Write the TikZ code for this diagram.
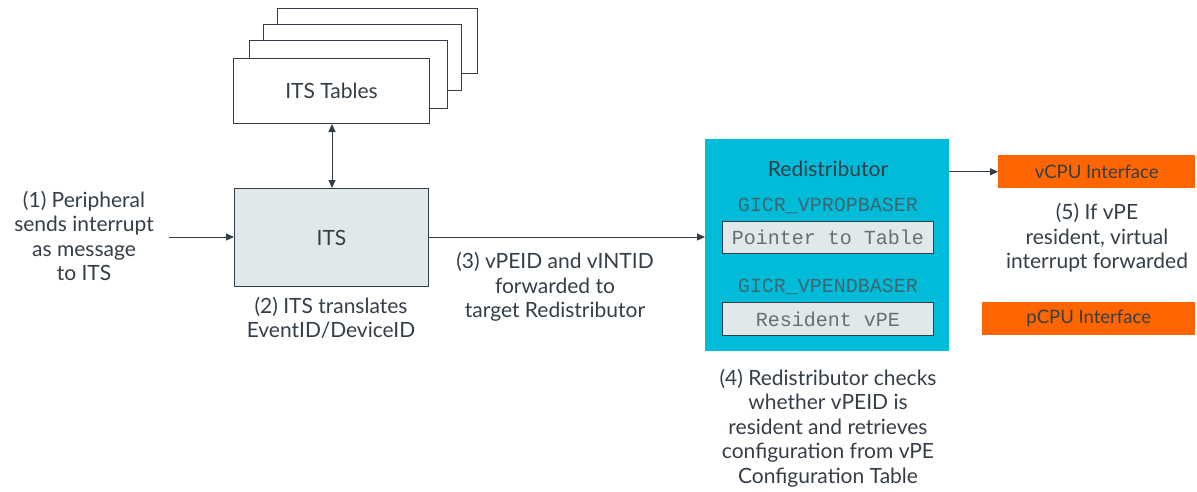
\documentclass[tikz,border=0pt]{standalone}
\usepackage{fontspec}
\setmainfont{Lato}
\setmonofont{Liberation Mono}
\usetikzlibrary{arrows.meta}
\definecolor{ink}{HTML}{333E48}
\definecolor{itsfill}{HTML}{E1E8EA}
\definecolor{cyanfill}{HTML}{00BCD9}
\definecolor{orangefill}{HTML}{FF6600}
\definecolor{regtext}{HTML}{3E6670}
\definecolor{celltext}{HTML}{676D72}
\tikzset{
  txt/.style={font=\fontsize{21}{24.5}\selectfont, text=ink, align=center, inner sep=0pt},
  tablebox/.style={draw=ink, line width=1pt, fill=white},
  itsbox/.style={draw=ink, line width=1pt, fill=itsfill},
  cellbox/.style={draw=ink, line width=1pt, fill=itsfill, font=\ttfamily\fontsize{20}{24}\selectfont, text=celltext, inner sep=0pt},
  regname/.style={font=\ttfamily\fontsize{20}{24}\selectfont, text=regtext, inner sep=0pt},
  ifbox/.style={fill=orangefill, font=\fontsize{18.5}{24}\selectfont, text=ink, inner sep=0pt},
  link/.style={draw=ink, line width=1pt, -{Triangle[length=8pt,width=7pt]}},
  biarrow/.style={draw=ink, line width=1pt, {Triangle[length=8pt,width=7pt]}-{Triangle[length=8pt,width=7pt]}},
}
\begin{document}
\begin{tikzpicture}[x=1pt,y=-1pt]
\useasboundingbox (0,0) rectangle (1197,491);

% stacked translation tables
\draw[tablebox] (277,8) rectangle (477,73);
\draw[tablebox] (263,24) rectangle (461,90);
\draw[tablebox] (249,40) rectangle (447,108);
\node[tablebox, minimum width=196pt, minimum height=65pt, anchor=north west, inner sep=0pt] (tables) at (233,58) {};
\node[txt] at (tables.center) {ITS Tables};

% ITS
\node[itsbox, minimum width=194pt, minimum height=98pt, anchor=north west, inner sep=0pt] (its) at (234,188) {};
\node[txt] at (its.center) {ITS};
\draw[biarrow] (tables.south -| 332,0) -- (its.north -| 332,0);

% incoming message
\node[txt] (peripheral) at (84,236) {(1) Peripheral\\sends interrupt\\as message\\to ITS};
\coordinate (src) at (169,237);
\draw[link] (src) -- (its.west |- src);

\node[txt] (translate) at (331,318) {(2) ITS translates\\EventID/DeviceID};

% Redistributor
\node[fill=cyanfill, minimum width=244pt, minimum height=212pt, anchor=north west, inner sep=0pt] (redist) at (705,139) {};
\node[txt] (redtitle) at (828,169) {Redistributor};
\node[regname] (propreg) at (828,206) {GICR\_VPROPBASER};
\node[cellbox, minimum width=211pt, minimum height=32pt, anchor=north west] (ptr) at (722,221) {Pointer to Table};
\node[regname] (pendreg) at (828,287) {GICR\_VPENDBASER};
\node[cellbox, minimum width=211pt, minimum height=33pt, anchor=north west] (res) at (722,302) {Resident vPE};

\draw[link] (its.east |- src) -- (redist.west |- src);
\node[txt] (fwd) at (555,287) {(3) vPEID and vINTID\\forwarded to\\target Redistributor};

\node[txt] (check) at (828,428) {(4) Redistributor checks\\whether vPEID is\\resident and retrieves\\configuration from vPE\\Configuration Table};

% CPU interfaces
\node[ifbox, minimum width=197pt, minimum height=33pt, anchor=north west] (vcpu) at (998,155) {vCPU Interface};
\node[ifbox, minimum width=213pt, minimum height=33pt, anchor=north west] (pcpu) at (982,302) {pCPU Interface};
\draw[link] (redist.east |- vcpu) -- (vcpu.west);
\node[txt] (resident) at (1097,238) {(5) If vPE\\resident, virtual\\interrupt forwarded};
\end{tikzpicture}
\end{document}
